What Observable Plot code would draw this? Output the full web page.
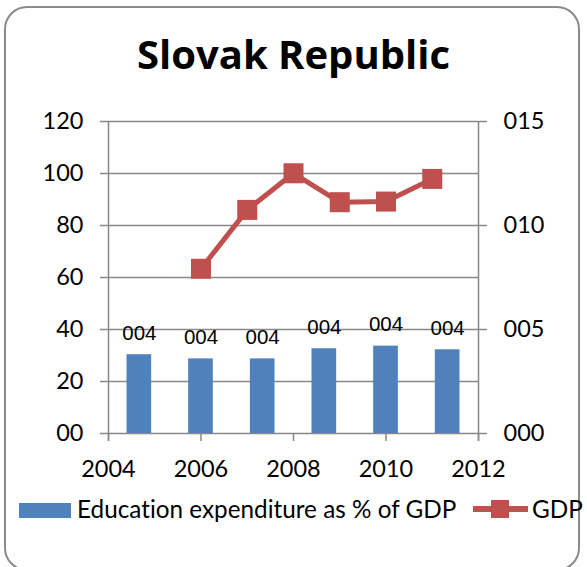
<!DOCTYPE html>
<html>
<head>
<meta charset="utf-8">
<script src="https://cdn.jsdelivr.net/npm/d3@7"></script>
<script src="https://cdn.jsdelivr.net/npm/@observablehq/plot@0.6"></script>
<style>
  html, body { margin: 0; padding: 0; background: #fff; overflow: hidden; }
  #wrap { position: relative; width: 587px; height: 567px; overflow: hidden; background: #fff; }
  #frame { position: absolute; left: 4px; top: 6px; width: 576px; height: 565px; box-sizing: border-box;
           border: 2px solid #8a8a8a; border-radius: 23px; }
  #title { position: absolute; left: 0; top: 30px; width: 587px; text-align: center;
           font-family: "Open Sans", sans-serif; font-weight: bold; font-size: 40px; line-height: 1.2; color: #000; }
  #chart { position: absolute; left: 0; top: 100px; }
  #legend { position: absolute; left: 0; top: 490px; }
  text { font-variant-ligatures: none; font-feature-settings: "liga" 0, "clig" 0; }
</style>
</head>
<body>
<div id="wrap">
  <div id="frame"></div>
  <div id="title">Slovak Republic</div>
  <div id="chart"></div>
  <svg id="legend" width="587" height="40"></svg>
</div>
<script>
// ---- data ----
const barCategories = [2006, 2007, 2008, 2009, 2010, 2011];
const barValues = [30.3, 28.7, 28.7, 32.6, 33.6, 32.2];
const barLabels = ["004", "004", "004", "004", "004", "004"];
const gdpYears = [2006, 2007, 2008, 2009, 2010, 2011];
const gdpValues = [7.92, 10.75, 12.51, 11.12, 11.15, 12.24];
const xTicks = [2004, 2006, 2008, 2010, 2012];
const yTicks = [0, 20, 40, 60, 80, 100, 120];
const yTickLabels = ["00", "20", "40", "60", "80", "100", "120"];
const rightTicks = [0, 5, 10, 15];
const rightTickLabels = ["000", "005", "010", "015"];
const seriesNames = ["Education expenditure as % of GDP", "GDP"];

// ---- scales helpers ----
const xDomain = [2004, 2012];
const yDomain = [0, 120];
const rightMax = 15;
const ratio = yDomain[1] / rightMax; // right axis -> left axis units

const band = d3.scaleBand().domain(barCategories).range(xDomain).paddingInner(0.6).paddingOuter(0.3);
const barData = barCategories.map((c, i) => ({
  cat: c, x1: band(c), x2: band(c) + band.bandwidth(), xc: band(c) + band.bandwidth() / 2,
  value: barValues[i], label: barLabels[i]
}));
const gdpData = gdpYears.map((y, i) => ({ year: y, v: gdpValues[i] * ratio }));

const gridColor = "#888888";
const blue = "#4F81BD";
const red = "#C0504D";
const axisFont = 23.5;

const chart = Plot.plot({
  width: 587,
  height: 390,
  marginLeft: 108,
  marginRight: 109,
  marginTop: 21,
  marginBottom: 57,
  x: { domain: xDomain },
  y: { domain: yDomain },
  style: { fontFamily: "Lato, sans-serif", fontSize: "22px", color: "#000", background: "transparent", overflow: "visible" },
  marks: [
    Plot.ruleY(yTicks, { stroke: gridColor, strokeWidth: 1.5 }),
    Plot.rectY(barData, { x1: "x1", x2: "x2", y: "value", fill: blue }),
    Plot.ruleX([xDomain[0], xDomain[1]], { y1: yDomain[1], y2: yDomain[0], insetBottom: -8, stroke: gridColor, strokeWidth: 1.5 }),
    Plot.axisX(xTicks, { tickSize: 8, tickPadding: 19, tickFormat: d => String(d), stroke: gridColor, strokeWidth: 1.5, fontSize: axisFont, label: null }),
    Plot.axisY(yTicks, { anchor: "left", tickSize: 8, tickPadding: 17, tickFormat: d => yTickLabels[yTicks.indexOf(d)], stroke: gridColor, strokeWidth: 1.5, fontSize: axisFont, label: null }),
    Plot.axisY(rightTicks.map(t => t * ratio), { anchor: "right", tickSize: 8, tickPadding: 17, tickFormat: d => rightTickLabels[rightTicks.indexOf(d / ratio)], stroke: gridColor, strokeWidth: 1.5, fontSize: axisFont, label: null }),
    Plot.line(gdpData, { x: "year", y: "v", stroke: red, strokeWidth: 5 }),
    Plot.dot(gdpData, { x: "year", y: "v", symbol: "square", r: 11.3, fill: red, stroke: "none" }),
    Plot.text(barData, { x: "xc", y: "value", text: "label", dy: -15, lineAnchor: "bottom", fontFamily: "Liberation Sans, Arial, sans-serif", fontSize: 20.5, fill: "#000" })
  ]
});
document.getElementById("chart").appendChild(chart);

// ---- legend ----
const lg = d3.select("#legend");
const ly = 517.5 - 490;
lg.append("rect").attr("x", 19).attr("y", 503 - 490).attr("width", 52).attr("height", 15).attr("fill", blue);
lg.append("text").attr("x", 77).attr("y", ly).attr("font-family", "Lato, sans-serif").attr("font-size", 24.3).attr("fill", "#000").text(seriesNames[0]);
lg.append("line").attr("x1", 473).attr("x2", 528).attr("y1", 509 - 490).attr("y2", 509 - 490).attr("stroke", red).attr("stroke-width", 6);
lg.append("rect").attr("x", 491).attr("y", 500 - 490).attr("width", 18).attr("height", 18).attr("fill", red);
lg.append("text").attr("x", 532).attr("y", ly).attr("font-family", "Lato, sans-serif").attr("font-size", 24.3).attr("fill", "#000").text(seriesNames[1]);
</script>
</body>
</html>
